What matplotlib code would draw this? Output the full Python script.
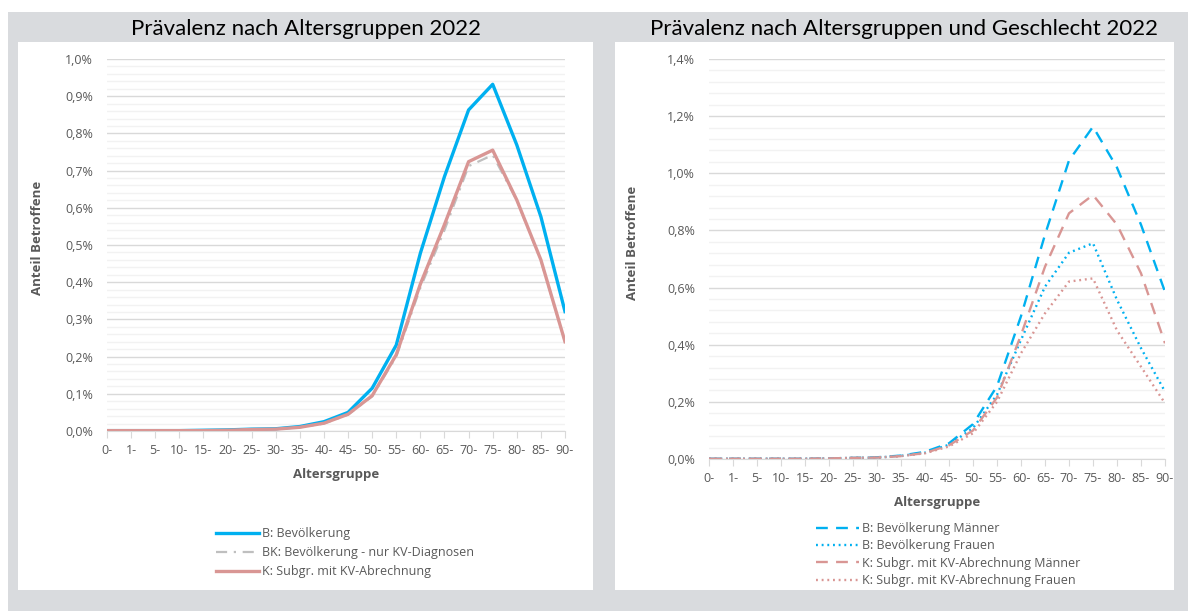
import numpy as np
import matplotlib
matplotlib.use('Agg')
import matplotlib.pyplot as plt
from matplotlib.patches import Rectangle
from matplotlib.ticker import MultipleLocator, FuncFormatter

# Altersgruppen
kategorien = ['0-', '1-', '5-', '10-', '15-', '20-', '25-', '30-', '35-', '40-',
              '45-', '50-', '55-', '60-', '65-', '70-', '75-', '80-', '85-', '90-']

# Prävalenz in % (links)
b_bev = [0.001, 0.001, 0.001, 0.001, 0.002, 0.003, 0.005, 0.006, 0.012, 0.025,
         0.050, 0.115, 0.231, 0.478, 0.684, 0.863, 0.932, 0.769, 0.576, 0.321]
bk_bev = [0.001, 0.001, 0.001, 0.001, 0.001, 0.002, 0.004, 0.005, 0.010, 0.020,
          0.044, 0.093, 0.200, 0.385, 0.540, 0.712, 0.742, 0.620, 0.458, 0.240]
k_sub = [0.001, 0.001, 0.001, 0.001, 0.001, 0.002, 0.004, 0.005, 0.010, 0.021,
         0.045, 0.095, 0.205, 0.395, 0.555, 0.724, 0.755, 0.621, 0.460, 0.240]

# Prävalenz in % nach Geschlecht (rechts)
b_maenner = [0.001, 0.001, 0.001, 0.001, 0.001, 0.002, 0.004, 0.006, 0.012, 0.025,
             0.055, 0.122, 0.255, 0.500, 0.785, 1.045, 1.163, 1.020, 0.820, 0.585]
b_frauen = [0.001, 0.001, 0.001, 0.001, 0.001, 0.002, 0.004, 0.005, 0.011, 0.022,
            0.050, 0.108, 0.225, 0.417, 0.603, 0.722, 0.755, 0.557, 0.388, 0.236]
k_maenner = [0.001, 0.001, 0.001, 0.001, 0.001, 0.002, 0.004, 0.005, 0.010, 0.021,
             0.048, 0.100, 0.215, 0.434, 0.673, 0.860, 0.924, 0.820, 0.650, 0.405]
k_frauen = [0.001, 0.001, 0.001, 0.001, 0.001, 0.002, 0.004, 0.005, 0.010, 0.020,
            0.044, 0.090, 0.200, 0.370, 0.510, 0.621, 0.632, 0.450, 0.323, 0.195]

W, H = 1188, 611
BLAU = '#00b0f0'
ROT = '#d99694'
GRAU = '#bfbfbf'
TXT = '#595959'
HINTERGRUND = '#d9dbde'

plt.rcParams['font.family'] = ['Open Sans', 'DejaVu Sans']

fig = plt.figure(figsize=(W / 100, H / 100), dpi=100, facecolor='white')


def rect(x0, y0, x1, y1, farbe):
    # Pixelkoordinaten (oben links = 0,0)
    fig.add_artist(Rectangle((x0 / W, 1 - y1 / H), (x1 - x0) / W, (y1 - y0) / H,
                             transform=fig.transFigure, facecolor=farbe,
                             edgecolor='none', zorder=-10))


def achse(x0, y0, x1, y1):
    return fig.add_axes([x0 / W, 1 - y1 / H, (x1 - x0) / W, (y1 - y0) / H])


rect(8, 12, W, H, HINTERGRUND)
rect(18, 42, 593, 590, 'white')
rect(615, 42, 1174, 590, 'white')

prozent = FuncFormatter(lambda v, p: f'{v:.1f}%'.replace('.', ','))
x = np.arange(len(kategorien))


def stil(ax, ymax, major, minor):
    ax.set_xlim(0, len(kategorien) - 1)
    ax.set_ylim(0, ymax)
    ax.yaxis.set_major_locator(MultipleLocator(major))
    ax.yaxis.set_minor_locator(MultipleLocator(minor))
    ax.yaxis.set_major_formatter(prozent)
    ax.grid(True, which='minor', axis='y', color='#f2f2f2', lw=1.0, zorder=0)
    ax.grid(True, which='major', axis='y', color='#d9d9d9', lw=1.0, zorder=0)
    ax.set_axisbelow(True)
    for s in ['top', 'right', 'left']:
        ax.spines[s].set_visible(False)
    ax.spines['bottom'].set_color('#d9d9d9')
    ax.set_xticks(x)
    ax.set_xticklabels(kategorien)
    ax.tick_params(axis='x', colors='#d9d9d9', labelcolor=TXT, labelsize=9,
                   length=5, pad=4)
    ax.tick_params(axis='y', which='both', length=0, labelcolor=TXT,
                   labelsize=9, pad=10)
    ax.set_facecolor('none')


# links
ax1 = achse(107, 59, 565, 431)
stil(ax1, 1.0, 0.1, 0.02)
ax1.plot(x, b_bev, color=BLAU, lw=2.4, label='B: Bevölkerung', zorder=3)
ax1.plot(x, bk_bev, color=GRAU, lw=1.6, dashes=(5, 3, 1, 3),
         label='BK: Bevölkerung - nur KV-Diagnosen', zorder=3)
ax1.plot(x, k_sub, color=ROT, lw=2.4, label='K: Subgr. mit KV-Abrechnung', zorder=4)
ax1.set_xlabel('Altersgruppe', fontweight='bold', color=TXT, fontsize=9.5,
               labelpad=8)
ax1.set_ylabel('Anteil Betroffene', fontweight='bold', color=TXT, fontsize=9.5)
ax1.yaxis.set_label_coords(44 / W, 1 - 238 / H, transform=fig.transFigure)
ax1.legend(loc='upper left', bbox_to_anchor=(216 / W, 1 - 527 / H),
           bbox_transform=fig.transFigure, frameon=False, fontsize=9,
           handlelength=3.4, handletextpad=0.3, labelspacing=0.5,
           labelcolor=TXT, borderaxespad=0, borderpad=0)
fig.text(306 / W, 1 - 29 / H, 'Prävalenz nach Altersgruppen 2022', ha='center',
         va='center', fontsize=16, color='black', family=['Lato', 'DejaVu Sans'])

# rechts
ax2 = achse(709, 59, 1165, 459)
stil(ax2, 1.4, 0.2, 0.04)
ax2.plot(x, b_maenner, color=BLAU, lw=1.7, dashes=(5, 3.5),
         label='B: Bevölkerung Männer', zorder=3)
ax2.plot(x, b_frauen, color=BLAU, lw=1.7, dashes=(0.8, 1.6),
         label='B: Bevölkerung Frauen', zorder=3)
ax2.plot(x, k_maenner, color=ROT, lw=1.7, dashes=(5, 3.5),
         label='K: Subgr. mit KV-Abrechnung Männer', zorder=3)
ax2.plot(x, k_frauen, color=ROT, lw=1.7, dashes=(0.8, 1.6),
         label='K: Subgr. mit KV-Abrechnung Frauen', zorder=3)
ax2.set_xlabel('Altersgruppe', fontweight='bold', color=TXT, fontsize=9.5,
               labelpad=8)
ax2.set_ylabel('Anteil Betroffene', fontweight='bold', color=TXT, fontsize=9.5)
ax2.yaxis.set_label_coords(639 / W, 1 - 243 / H, transform=fig.transFigure)
ax2.legend(loc='upper left', bbox_to_anchor=(816 / W, 1 - 522 / H),
           bbox_transform=fig.transFigure, frameon=False, fontsize=9,
           handlelength=3.4, handletextpad=0.3, labelspacing=0.35,
           labelcolor=TXT, borderaxespad=0, borderpad=0)
fig.text(904 / W, 1 - 29 / H, 'Prävalenz nach Altersgruppen und Geschlecht 2022',
         ha='center', va='center', fontsize=16, color='black',
         family=['Lato', 'DejaVu Sans'])

plt.savefig('out.png', dpi=100, facecolor=fig.get_facecolor())
